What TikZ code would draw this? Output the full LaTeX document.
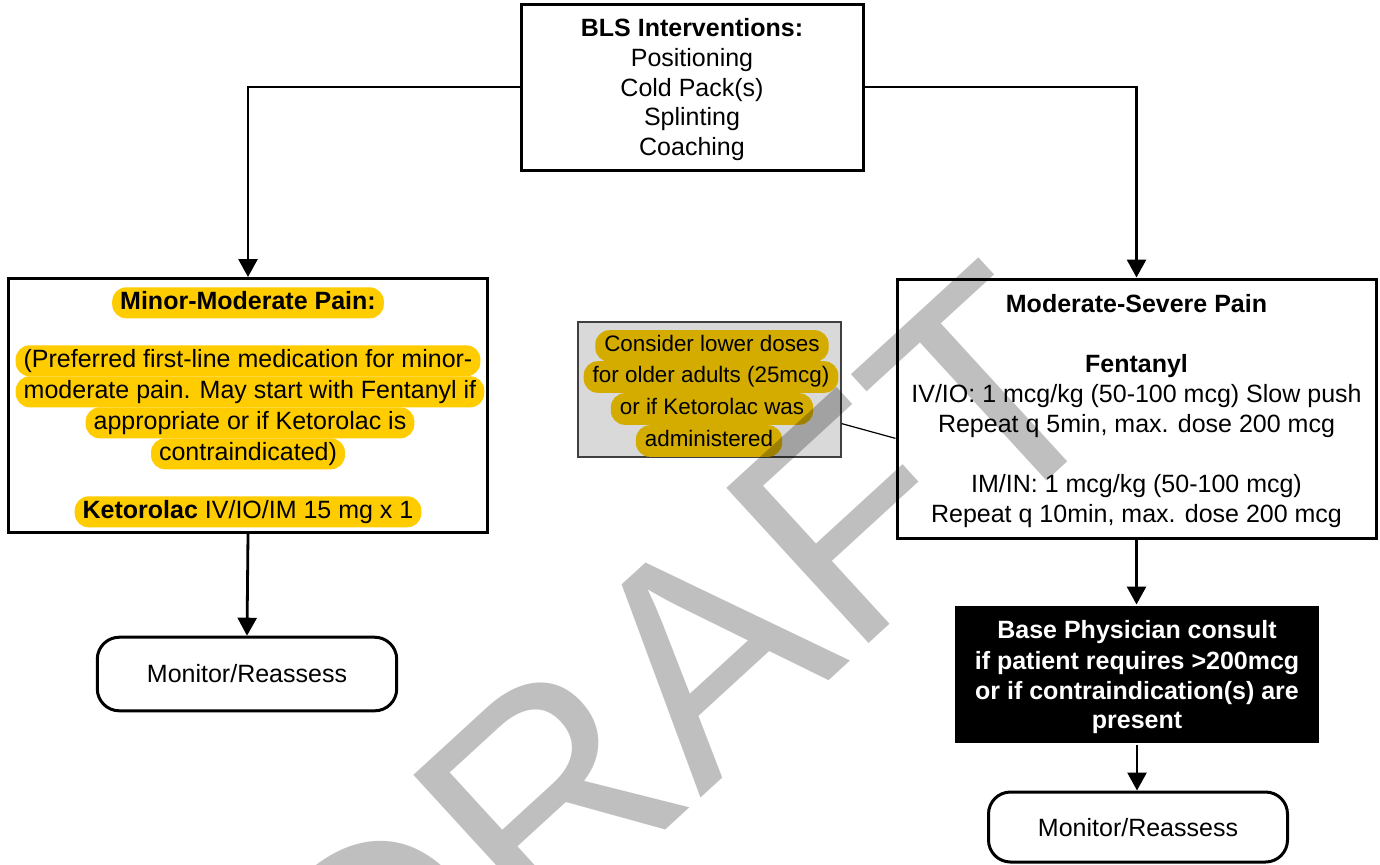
\documentclass[tikz,border=0pt]{standalone}
\usepackage{fontspec}
\setmainfont{Liberation Sans}
\usetikzlibrary{arrows.meta,calc}
\definecolor{hlgold}{HTML}{FFCC00}
\definecolor{hlnote}{HTML}{D4AC00}
\definecolor{notebg}{HTML}{D9D9D9}
\newcommand\bodyfont{\fontsize{12.5}{15}\selectfont}
\newcommand\notefont{\fontsize{11.2}{13.5}\selectfont}

\begin{document}
\begin{tikzpicture}[x=0.5pt,y=-0.5pt,
  box/.style={draw=black, line width=1.5pt, fill=white, inner sep=0pt},
  monbox/.style={box, rounded corners=11pt},
  txt/.style={inner xsep=4pt, inner ysep=0pt, text height=9.4pt, text depth=3pt,
              minimum height=15.5pt, font=\bodyfont, yshift=-1.4pt},
  btxt/.style={txt, font=\bodyfont\bfseries},
  ntxt/.style={txt, font=\notefont, text height=8.5pt, text depth=2.7pt, minimum height=15.8pt,
               inner xsep=4.5pt, yshift=-0.6pt},
  hl/.style={fill=hlgold, rounded corners=7pt},
  nhl/.style={fill=hlnote, rounded corners=7pt},
  link/.style={line width=1.4pt, -{Triangle[width=9.5pt,length=9pt]}},
]
\useasboundingbox (0,0) rectangle (1380,864);

% boxes
\node[box, minimum width=171pt, minimum height=83pt] (bls) at (692,87) {};
\node[box, minimum width=239.4pt, minimum height=127pt] (minor) at (248,405.5) {};
\node[box, minimum width=239.5pt, minimum height=129.5pt] (severe) at (1136.5,408.5) {};
\node[box, fill=black, draw=none, minimum width=182pt, minimum height=68.5pt] (consult) at (1137,674.5) {};
\node[monbox, minimum width=149.7pt, minimum height=36.8pt] (mon1) at (247,674) {};
\node[monbox, minimum width=149.5pt, minimum height=35pt] (mon2) at (1138,827) {};
\node[draw=black!75, line width=0.7pt, fill=notebg, inner sep=0pt,
      minimum width=131.5pt, minimum height=67.5pt] (note) at (709.5,389.5) {};

% connectors
\draw[link] (bls.west) -| (minor.north);
\draw[link] (bls.east) -| (severe.north);
\draw[link] (minor.south) -- (mon1.north);
\draw[link] (severe.south) -- (severe.south |- consult.north);
\draw[link] (consult.south) -- (consult.south |- mon2.north);
\draw[line width=0.6pt] ($(note.south east)!0.25!(note.north east)$)
  -- ($(severe.south west)!0.386!(severe.north west)$);

% BLS interventions
\node[btxt] (b1) at (692,27) {BLS Interventions:};
\node[txt] (b2) at (692,57) {Positioning};
\node[txt] (b3) at (692,87) {Cold Pack(s)};
\node[txt] (b4) at (692,116) {Splinting};
\node[txt] (b5) at (692,146) {Coaching};

% minor-moderate pain
\node[btxt, hl] (m1) at (248,300) {Minor-Moderate Pain:};
\node[txt, hl] (m2) at (248,358) {(Preferred first-line medication for minor-};
\node[txt, hl] (m3) at (250,389) {moderate pain. May start with Fentanyl if};
\node[txt, hl] (m4) at (250,420) {appropriate or if Ketorolac is};
\node[txt, hl] (m5) at (248,451) {contraindicated)};
\node[txt, hl] (m6) at (248,509) {\textbf{Ketorolac} IV/IO/IM 15 mg x 1};

% moderate-severe pain
\node[btxt] (s1) at (1136.5,303) {Moderate-Severe Pain};
\node[btxt] (s2) at (1136.5,363) {Fentanyl};
\node[txt] (s3) at (1136.5,393) {IV/IO: 1 mcg/kg (50-100 mcg) Slow push};
\node[txt] (s4) at (1136.5,423) {Repeat q 5min, max. dose 200 mcg};
\node[txt] (s5) at (1136.5,483) {IM/IN: 1 mcg/kg (50-100 mcg)};
\node[txt] (s6) at (1136.5,513) {Repeat q 10min, max. dose 200 mcg};

% consult
\node[btxt, text=white] (c1) at (1137,629) {Base Physician consult};
\node[btxt, text=white] (c2) at (1137,660) {if patient requires >200mcg};
\node[btxt, text=white] (c3) at (1137,690) {or if contraindication(s) are};
\node[btxt, text=white] (c4) at (1137,719) {present};

% monitor
\node[txt] (r1) at (247,673) {Monitor/Reassess};
\node[txt] (r2) at (1138,827) {Monitor/Reassess};

% note
\node[ntxt, nhl] (n1) at (712,342) {Consider lower doses};
\node[ntxt, nhl] (n2) at (711,373) {for older adults (25mcg)};
\node[ntxt, nhl] (n3) at (712,405) {or if Ketorolac was};
\node[ntxt, nhl] (n4) at (709,437) {administered};

% watermark
\begin{scope}
  \clip (0,0) rectangle (1380,864);
  \node[anchor=base west, inner sep=0pt, rotate=42.5, text=black, text opacity=0.25,
        font=\fontsize{153}{153}\selectfont] (wm) at (374,1097) {DRAFT};
\end{scope}
\end{tikzpicture}
\end{document}
